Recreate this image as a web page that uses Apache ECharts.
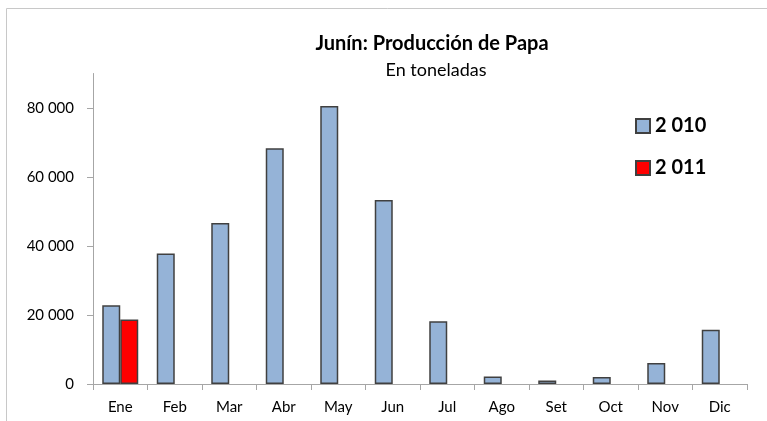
<!DOCTYPE html>
<html>
<head>
<meta charset="utf-8">
<script src="https://cdn.jsdelivr.net/npm/echarts@6/dist/echarts.min.js"></script>
<style>
  html, body { margin: 0; padding: 0; background: #fff; }
  #chart { width: 767px; height: 421px; }
</style>
</head>
<body>
<div id="chart"></div>
<script>
// meses
var months = ['Ene', 'Feb', 'Mar', 'Abr', 'May', 'Jun', 'Jul', 'Ago', 'Set', 'Oct', 'Nov', 'Dic']
// produccion en toneladas
var prod2010 = [22800, 37800, 46700, 68300, 80600, 53300, 18200, 2200, 1000, 2000, 6100, 15700]
var prod2011 = [18700, null, null, null, null, null, null, null, null, null, null, null]
var seriesNames = ['2 010', '2 011']

var chart = echarts.init(document.getElementById('chart'))

function fmtMiles(v) {
    // separador de miles con espacio
    return String(v).replace(/\B(?=(\d{3})+(?!\d))/g, ' ')
}

var font = 'Lato, "Open Sans", sans-serif'

var option = {
    animation: false,
    textStyle: { fontFamily: font },
    graphic: [
        {
            type: 'rect',
            shape: { x: 6.5, y: 8.5, width: 800, height: 500 },
            style: { fill: 'none', stroke: '#c8c8c8', lineWidth: 1 },
        },
    ],
    title: [
        {
            text: 'Junín: Producción de Papa',
            left: 427,
            top: 29,
            textAlign: 'center',
            textStyle: { fontSize: 20, fontWeight: 'bold', color: '#000', fontFamily: font },
        },
        {
            text: 'En toneladas',
            left: 431,
            top: 56,
            textAlign: 'center',
            textStyle: { fontSize: 18, fontWeight: 'normal', color: '#000', fontFamily: font },
        },
    ],
    legend: {
        orient: 'vertical',
        left: 630,
        top: 111,
        icon: 'rect',
        itemWidth: 14,
        itemHeight: 14,
        itemGap: 22,
        textStyle: { fontSize: 20, fontWeight: 'bold', color: '#000', fontFamily: font },
        data: seriesNames,
    },
    grid: {
        left: 93,
        right: 20,
        top: 73.5,
        bottom: 37,
    },
    xAxis: {
        type: 'category',
        data: months,
        axisLine: { lineStyle: { color: '#a6a6a6', width: 1 } },
        axisTick: { show: true, length: 6, lineStyle: { color: '#a6a6a6' } },
        axisLabel: { color: '#000', fontSize: 15, margin: 16 },
    },
    yAxis: {
        type: 'value',
        min: 0,
        max: 90000,
        interval: 20000,
        axisLine: { show: true, lineStyle: { color: '#a6a6a6', width: 1 } },
        axisTick: { show: true, length: 6, lineStyle: { color: '#a6a6a6' } },
        splitLine: { show: false },
        axisLabel: {
            color: '#000',
            fontSize: 15,
            margin: 19,
            showMaxLabel: false,
            formatter: function (v) {
                return fmtMiles(v)
            },
        },
    },
    series: [
        {
            name: seriesNames[0],
            type: 'bar',
            data: prod2010,
            barWidth: 18,
            barGap: '0%',
            itemStyle: { color: '#95b3d7', borderColor: '#404040', borderWidth: 1.5 },
        },
        {
            name: seriesNames[1],
            type: 'bar',
            data: prod2011,
            barWidth: 18,
            itemStyle: { color: '#ff0000', borderColor: '#404040', borderWidth: 1.5 },
        },
    ],
}
option && chart.setOption(option)
</script>
</body>
</html>
